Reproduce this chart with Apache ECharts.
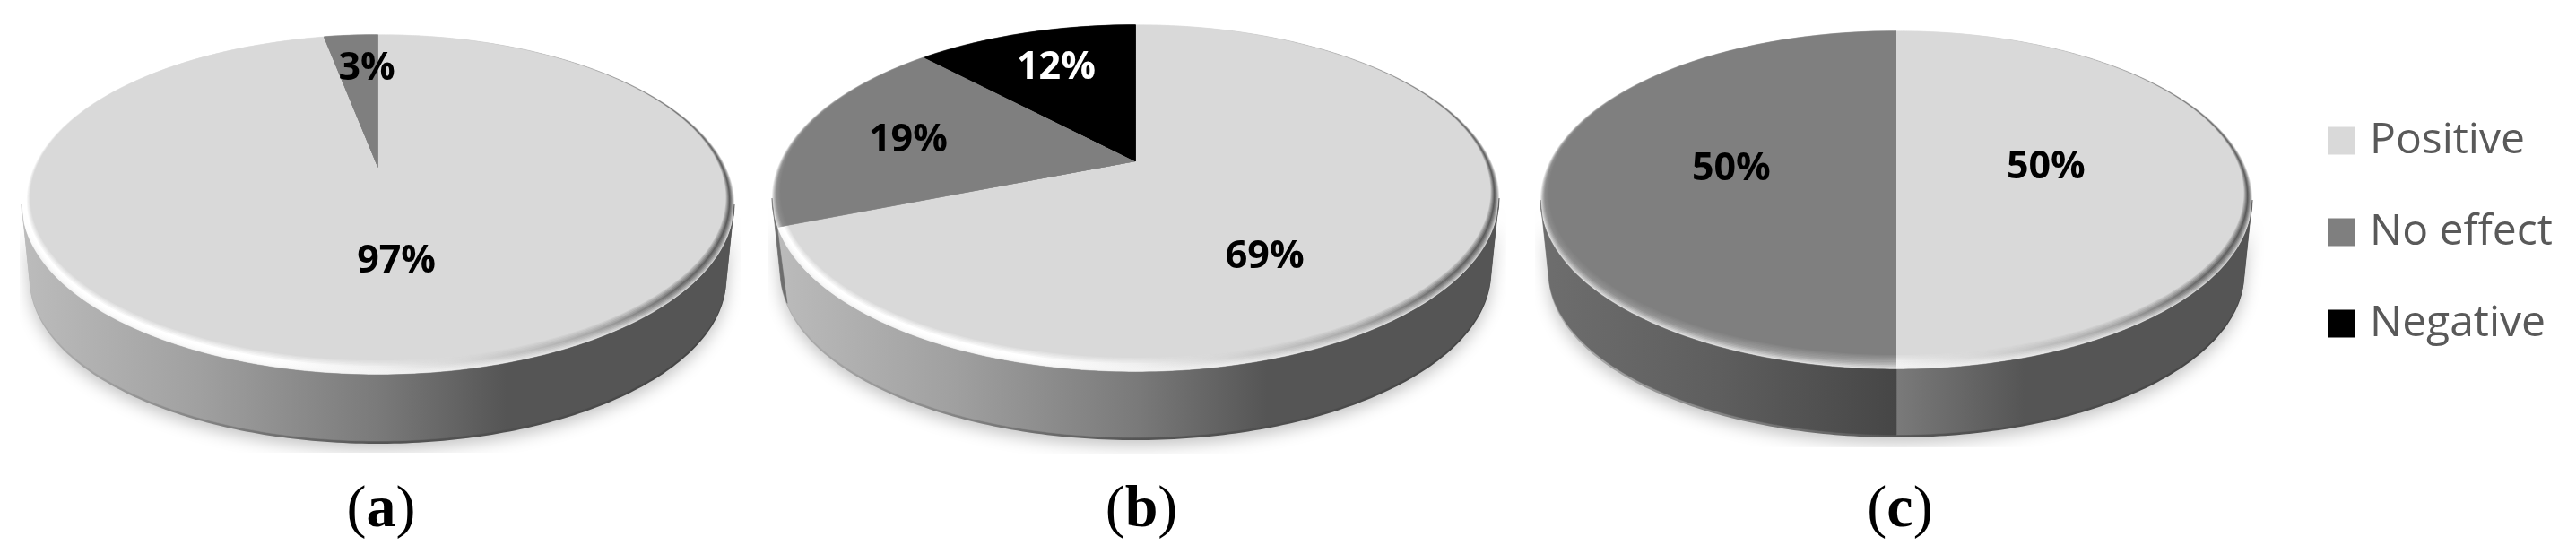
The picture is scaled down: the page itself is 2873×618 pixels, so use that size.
<!DOCTYPE html>
<html><head><meta charset="utf-8">
<style>html,body{margin:0;padding:0;background:#fff}#c{width:2873px;height:618px}</style>
<script src="https://cdn.jsdelivr.net/npm/echarts@6/dist/echarts.min.js"></script>
</head><body><div id="c"></div>
<script>
// ---- data ----
const categories = ['Positive', 'No effect', 'Negative'];
const panelLabels = ['a', 'b', 'c'];
const panelA = [97, 3, 0];
const panelB = [69, 19, 12];
const panelC = [50, 50, 0];
const panels = [panelA, panelB, panelC];

// ---- styling / layout ----
const sliceColors = ['#d9d9d9', '#7f7f7f', '#000000'];
const labelColors = ['#000000', '#000000', '#ffffff'];
const sideStops = [
  [[0, '#bcbcbc'], [.25, '#a0a0a0'], [.5, '#7a7a7a'], [.68, '#555555'], [1, '#555555']],
  [[0, '#6e6e6e'], [.25, '#5e5e5e'], [.5, '#464646'], [1, '#464646']],
  [[0, '#111111'], [1, '#111111']]
];
const rimStops = [
  [[0, '#ffffff'], [.35, '#ffffff'], [.5, '#efefef'], [.62, '#d8d8d8'], [.8, '#a8a8a8'], [.92, '#6c6c6c'], [1, '#5a5a5a']],
  [[0, '#8c8c8c'], [.5, '#a2a2a2'], [1, '#a2a2a2']],
  [[0, '#222222'], [1, '#222222']]
];
const edgeStops = [[0, '#b4b4b4'], [.5, '#555555'], [1, '#444444']];
const geometry = [
  {left: 24, right: 819, top: 38, bottom: 418, apex: 187, lowBottom: 492, clip: [22, 826, 505]},
  {left: 861, right: 1672, top: 27, bottom: 415, apex: 180, lowBottom: 488, clip: [857, 1680, 507]},
  {left: 1718, right: 2512, top: 34, bottom: 412, apex: 186, lowBottom: 485, clip: [1712, 2525, 499]}
];
const lowInset = 9, lowRise = 87, edgeDepth = 3, labelDrop = 3;
// where each percentage label sits: [share along the slice's sweep, share of the radius]
const labelSpots = [[[.5, .504], [.73, .722]], [[.592, .598], [.5, .676], [.51, .705]], [[.49, .43], [.5, .473]]];
const captionX = [425, 1273, 2119];
const rimLayers = [[0, .2], [.1, .25], [.2, .3], [.3, .4], [.4, .55], [.5, 1]];
const faceLayers = [[.62, .2], [.72, .25], [.82, .35], [.92, .5], [1, 1]];

function makeProjector(T, Bt, L, R, C) {
  const k = (Bt + T - 2 * C) / (Bt - T);
  const B = Bt * (1 - k) - C;
  const A = (R - L) / 2 * Math.sqrt(1 - k * k);
  const cx = (L + R) / 2;
  const fn = (t, r) => {
    const u = r * Math.sin(t), v = -r * Math.cos(t), w = 1 - k * v;
    return [cx + A * u / w, (B * v + C) / w];
  };
  fn.k = k;
  return fn;
}
function projector(g, s) {
  return makeProjector(g.top + s, g.bottom - s * 16, g.left + s * 9.5, g.right - s * 9.5, g.apex);
}
function lowProjector(g, extra) {
  const b = g.lowBottom + (extra || 0);
  return makeProjector(g.top + lowRise + (extra || 0), b, g.left + lowInset, g.right - lowInset, g.apex + lowRise + (extra || 0));
}
function sliceRange(p, c) {
  const vals = panels[p], total = vals.reduce((a, b) => a + b, 0);
  let before = 0;
  for (let i = 0; i < c; i++) before += vals[i];
  return [before / total * 2 * Math.PI, (before + vals[c]) / total * 2 * Math.PI];
}
function arc(P, a, b) {
  const n = Math.max(2, Math.ceil((b - a) / 0.015)), pts = [];
  for (let i = 0; i <= n; i++) pts.push(P(a + (b - a) * i / n, 1));
  return pts;
}
function wedge(P, a, b) {
  const pts = arc(P, a, b);
  pts.push(P(0, 0));
  return pts;
}
function frontOf(g) {
  const k = projector(g, 0).k, f = Math.acos(-k);
  return [f, 2 * Math.PI - f];
}
function hGrad(g, stops) {
  return new echarts.graphic.LinearGradient(g.left, 0, g.right, 0,
    stops.map(s => ({offset: s[0], color: s[1]})), true);
}

function sideItem(c) {
  return (params) => {
    const p = params.dataIndex, g = geometry[p];
    if (!panels[p][c]) return null;
    const [a, b] = sliceRange(p, c), [f0, f1] = frontOf(g);
    const a1 = Math.max(a, f0), b1 = Math.min(b, f1);
    if (b1 <= a1) return null;
    const pts = arc(projector(g, 0), a1, b1).concat(arc(lowProjector(g), a1, b1).reverse());
    return {type: 'polygon', shape: {points: pts},
      style: {fill: hGrad(g, sideStops[c]), stroke: hGrad(g, sideStops[c]), lineWidth: .6}};
  };
}
function faceItem(c) {
  return (params) => {
    const p = params.dataIndex, g = geometry[p];
    if (!panels[p][c]) return null;
    const [a, b] = sliceRange(p, c);
    const kids = [];
    rimLayers.forEach(l => kids.push({type: 'polygon',
      shape: {points: wedge(projector(g, l[0]), a, b)},
      style: {fill: hGrad(g, rimStops[c]), opacity: l[1]}}));
    faceLayers.forEach(l => kids.push({type: 'polygon',
      shape: {points: wedge(projector(g, l[0]), a, b)},
      style: {fill: sliceColors[c], opacity: l[1]}}));
    return {type: 'group', children: kids};
  };
}
function labelItem(c) {
  return (params) => {
    const p = params.dataIndex, g = geometry[p];
    if (!panels[p][c]) return null;
    const [a, b] = sliceRange(p, c), spot = labelSpots[p][c];
    const q = projector(g, 0)(a + (b - a) * spot[0], spot[1]);
    return {type: 'text', style: {text: panels[p][c] + '%', x: q[0], y: q[1] + labelDrop,
      fill: labelColors[c], font: 'bold 43px "Open Sans"', textAlign: 'center', textVerticalAlign: 'middle'}};
  };
}
function shadowItem(params) {
  const g = geometry[params.dataIndex];
  const [f0, f1] = frontOf(g);
  const pts = arc(projector(g, 0), f0, f1).concat(arc(lowProjector(g, edgeDepth), f0, f1).reverse());
  return {type: 'polygon', shape: {points: pts},
    clipPath: {type: 'rect', shape: {x: g.clip[0], y: 0, width: g.clip[1] - g.clip[0], height: g.clip[2]}},
    style: {fill: hGrad(g, edgeStops), shadowBlur: 18, shadowColor: 'rgba(0,0,0,.24)', shadowOffsetY: 6}};
}

const panelData = panels.map((v, i) => [i]);
const series = [{type: 'custom', name: 'shadow', coordinateSystem: 'none', silent: true, z: 1,
  renderItem: shadowItem, data: panelData}];
[[sideItem, 2], [faceItem, 3], [labelItem, 4]].forEach(([maker, z]) => {
  categories.forEach((name, c) => series.push({
    type: 'custom', name, coordinateSystem: 'none', silent: true, z: z + c * 0.01,
    itemStyle: {color: sliceColors[c]}, renderItem: maker(c), data: panelData
  }));
});

const captionRich = {
  r: {fontFamily: 'Liberation Serif', fontSize: 66, fontWeight: 'normal', color: '#000'},
  b: {fontFamily: 'Liberation Serif', fontSize: 66, fontWeight: 'bold', color: '#000'}
};
const option = {
  animation: false,
  backgroundColor: '#fff',
  title: panelLabels.map((t, i) => ({
    text: '{r|(}{b|' + t + '}{r|)}', left: captionX[i], top: 537, textAlign: 'center', padding: 0,
    textStyle: {rich: captionRich}
  })),
  legend: {
    data: categories, orient: 'vertical', left: 2596, top: 133, padding: 0,
    icon: 'rect', itemWidth: 31, itemHeight: 31, itemGap: 54, selectedMode: false,
    textStyle: {fontFamily: 'Open Sans', fontSize: 48, color: '#595959', lineHeight: 46, padding: [0, 0, 0, 11]}
  },
  series
};
const chart = echarts.init(document.getElementById('c'), null, {renderer: 'canvas', width: 2873, height: 618});
chart.setOption(option);
</script></body></html>
